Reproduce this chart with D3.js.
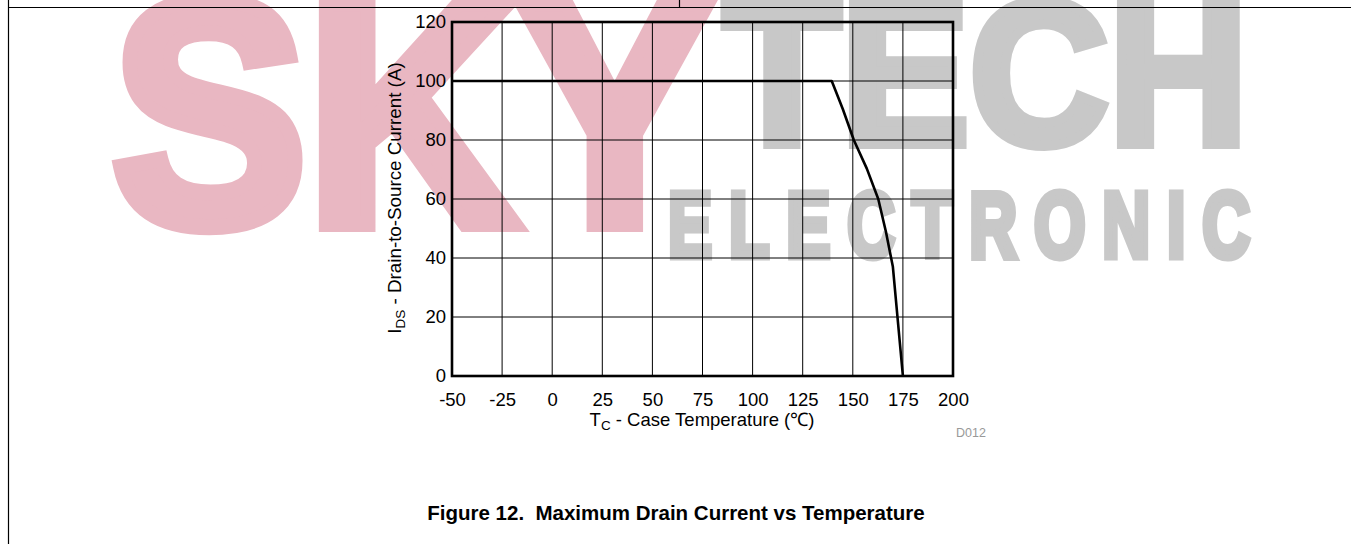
<!DOCTYPE html>
<html>
<head>
<meta charset="utf-8">
<script src="https://cdn.jsdelivr.net/npm/d3@7"></script>
<style>
  body { margin: 0; background: #fff; }
  svg { display: block; font-family: Arial, "Liberation Sans", sans-serif; }
</style>
</head>
<body>
<div id="chart"></div>
<script>
// Data
const tempTicks = [-50, -25, 0, 25, 50, 75, 100, 125, 150, 175, 200];
const currentTicks = [0, 20, 40, 60, 80, 100, 120];
const caseTemp = [-50, 139.5, 145, 150.5, 157, 162.7, 166.5, 170, 175];
const drainCurrent = [100, 100, 90.5, 80, 70.3, 60, 49, 37, 0];

const W = 1351, H = 544;
const plot = { left: 452, right: 953, top: 22, bottom: 376 };

const svg = d3.select("#chart").append("svg")
  .attr("width", W)
  .attr("height", H);

svg.append("rect").attr("width", W).attr("height", H).attr("fill", "#fff");

// Watermark behind the chart
const pink = "#e9b7c2", grey = "#c8c8c8";
const wm = svg.append("g").attr("class", "watermark");
wm.append("text")
  .attr("x", 112).attr("y", 224)
  .attr("font-size", 320)
  .attr("font-weight", "bold")
  .attr("textLength", 600)
  .attr("lengthAdjust", "spacingAndGlyphs")
  .attr("fill", pink)
  .attr("stroke", pink)
  .attr("stroke-width", 16)
  .text("SKY");
wm.append("text")
  .attr("x", 723).attr("y", 144)
  .attr("font-size", 205)
  .attr("font-weight", "bold")
  .attr("textLength", 525)
  .attr("lengthAdjust", "spacingAndGlyphs")
  .attr("fill", grey)
  .attr("stroke", grey)
  .attr("stroke-width", 10)
  .text("TECH");
wm.append("g")
  .attr("transform", "translate(668,257) scale(0.72,1)")
  .append("text")
  .attr("x", 0).attr("y", 0)
  .attr("font-size", 92)
  .attr("font-weight", "bold")
  .attr("textLength", 582 / 0.72)
  .attr("lengthAdjust", "spacing")
  .attr("fill", grey)
  .attr("stroke", grey)
  .attr("stroke-width", 7)
  .text("ELECTRONIC");

// Page rules
svg.append("line").attr("x1", 8).attr("x2", W).attr("y1", 7.5).attr("y2", 7.5)
  .attr("stroke", "#000").attr("stroke-width", 1.2);
svg.append("line").attr("x1", 8.5).attr("x2", 8.5).attr("y1", 0).attr("y2", H)
  .attr("stroke", "#000").attr("stroke-width", 1.2);
svg.append("line").attr("x1", 679.5).attr("x2", 679.5).attr("y1", 0).attr("y2", 7.5)
  .attr("stroke", "#000").attr("stroke-width", 1.2);

// Scales
const x = d3.scaleLinear().domain([-50, 200]).range([plot.left, plot.right]);
const y = d3.scaleLinear().domain([0, 120]).range([plot.bottom, plot.top]);

// Grid
svg.append("g")
  .selectAll("line")
  .data(tempTicks)
  .join("line")
  .attr("x1", d => x(d)).attr("x2", d => x(d))
  .attr("y1", plot.top).attr("y2", plot.bottom)
  .attr("stroke", "#000").attr("stroke-width", 1);
svg.append("g")
  .selectAll("line")
  .data(currentTicks)
  .join("line")
  .attr("x1", plot.left).attr("x2", plot.right)
  .attr("y1", d => y(d)).attr("y2", d => y(d))
  .attr("stroke", "#000").attr("stroke-width", 1);

// Curve
const pts = caseTemp.map((t, i) => [t, drainCurrent[i]]);
svg.append("path")
  .datum(pts)
  .attr("fill", "none")
  .attr("stroke", "#000")
  .attr("stroke-width", 2.6)
  .attr("stroke-linejoin", "round")
  .attr("d", d3.line().x(d => x(d[0])).y(d => y(d[1])));

// Frame
svg.append("rect")
  .attr("x", plot.left).attr("y", plot.top)
  .attr("width", plot.right - plot.left)
  .attr("height", plot.bottom - plot.top)
  .attr("fill", "none")
  .attr("stroke", "#000")
  .attr("stroke-width", 2.6);

// Axes (labels only), plain hyphen for negatives
const xAxisG = svg.append("g")
  .attr("transform", `translate(0,${plot.bottom})`)
  .call(d3.axisBottom(x).tickValues(tempTicks).tickSize(0).tickPadding(17)
    .tickFormat(d => String(d)));
const yAxisG = svg.append("g")
  .attr("transform", `translate(${plot.left},0)`)
  .call(d3.axisLeft(y).tickValues(currentTicks).tickSize(0).tickPadding(6)
    .tickFormat(d => String(d)));
[xAxisG, yAxisG].forEach(g => {
  g.select(".domain").remove();
  g.selectAll("text")
    .attr("font-size", 18.5)
    .attr("font-family", "Arial, 'Liberation Sans', sans-serif")
    .attr("fill", "#000");
});

// Axis titles
const xTitle = svg.append("text")
  .attr("x", 702).attr("y", 426)
  .attr("text-anchor", "middle")
  .attr("font-size", 18.5);
xTitle.append("tspan").text("T");
xTitle.append("tspan").attr("font-size", 13.5).attr("dy", 4).text("C");
xTitle.append("tspan").attr("dy", -4).text(" - Case Temperature (\u2103)");

const yTitle = svg.append("text")
  .attr("transform", "translate(401,198) rotate(-90)")
  .attr("text-anchor", "middle")
  .attr("font-size", 18.8);
yTitle.append("tspan").text("I");
yTitle.append("tspan").attr("font-size", 13.5).attr("dy", 4).text("DS");
yTitle.append("tspan").attr("dy", -4).text(" - Drain-to-Source Current (A)");

svg.append("text")
  .attr("x", 971).attr("y", 437)
  .attr("text-anchor", "middle")
  .attr("font-size", 12.5)
  .attr("fill", "#999")
  .text("D012");

// Caption
svg.append("text")
  .attr("x", 676).attr("y", 520)
  .attr("text-anchor", "middle")
  .attr("font-size", 20.5)
  .attr("font-weight", "bold")
  .style("white-space", "pre")
  .text("Figure 12.  Maximum Drain Current vs Temperature");
</script>
</body>
</html>
